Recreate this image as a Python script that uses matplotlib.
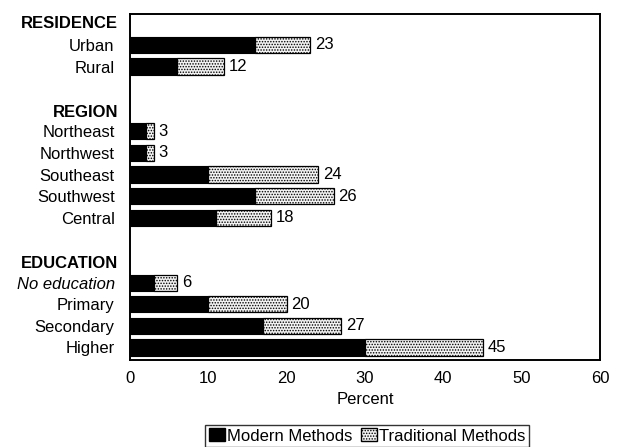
import numpy as np
import matplotlib
matplotlib.use("Agg")
import matplotlib.pyplot as plt
from matplotlib.patches import Patch

plt.rcParams['font.family'] = ['Liberation Sans', 'DejaVu Sans']
plt.rcParams['hatch.linewidth'] = 0.7

# data
groups = ["RESIDENCE", "REGION", "EDUCATION"]
categories = [
    ["Urban", "Rural"],
    ["Northeast", "Northwest", "Southeast", "Southwest", "Central"],
    ["No education", "Primary", "Secondary", "Higher"],
]
modern = [
    [16, 6],
    [2, 2, 10, 16, 11],
    [3, 10, 17, 30],
]
total = [
    [23, 12],
    [3, 3, 24, 26, 18],
    [6, 20, 27, 45],
]
x_ticks = [0, 10, 20, 30, 40, 50, 60]

# row positions (header sits one row above the first item of each group)
group_start = [1, 5, 12]
header_pos = [0.0, 4.15, 11.1]

fig = plt.figure(figsize=(6.19, 4.47), dpi=100)
ax = fig.add_axes([130 / 619, 1 - 360 / 447, 470 / 619, 346 / 447])

ypos, labels = [], []
for g in range(len(groups)):
    for i, name in enumerate(categories[g]):
        y = group_start[g] + i
        m = modern[g][i]
        t = total[g][i]
        ax.barh(y, m, height=0.75, color='black', edgecolor='black', linewidth=0.8)
        ax.barh(y, t - m, left=m, height=0.75, color='#f2f2f2', edgecolor='black',
                hatch='......', linewidth=0.9)
        ax.text(t + 0.6, y, str(t), va='center', ha='left', fontsize=12)
        ypos.append(y)
        labels.append(name)
    ax.text(-0.025, header_pos[g], groups[g], transform=ax.get_yaxis_transform(),
            ha='right', va='center', fontsize=12, fontweight='bold')

ax.set_yticks(ypos)
ax.set_yticklabels(labels, fontsize=12)
for lab in ax.get_yticklabels():
    if lab.get_text() == "No education":
        lab.set_style('italic')
ax.tick_params(axis='y', length=0, pad=11)
ax.set_xticks(x_ticks)
ax.set_xticklabels([str(v) for v in x_ticks], fontsize=12)
ax.tick_params(axis='x', length=0, pad=8)
ax.set_xlim(0, 60)
ax.set_ylim(15.58, -0.43)
for s in ax.spines.values():
    s.set_linewidth(1.4)
ax.set_xlabel("Percent", fontsize=12, labelpad=4)

handles = [Patch(facecolor='black', edgecolor='black', label='Modern Methods'),
           Patch(facecolor='#f2f2f2', edgecolor='black', hatch='......', label='Traditional Methods')]
leg = fig.legend(handles=handles, loc='center', bbox_to_anchor=(367 / 619, 1 - 436 / 447),
                 ncol=2, frameon=True, fancybox=False, fontsize=12, handlelength=1.0,
                 handleheight=0.8, handletextpad=0.1, columnspacing=0.5, borderpad=0.2,
                 borderaxespad=0)
leg.get_frame().set_edgecolor('black')
leg.get_frame().set_linewidth(1.0)

fig.savefig("out.png", dpi=100)
